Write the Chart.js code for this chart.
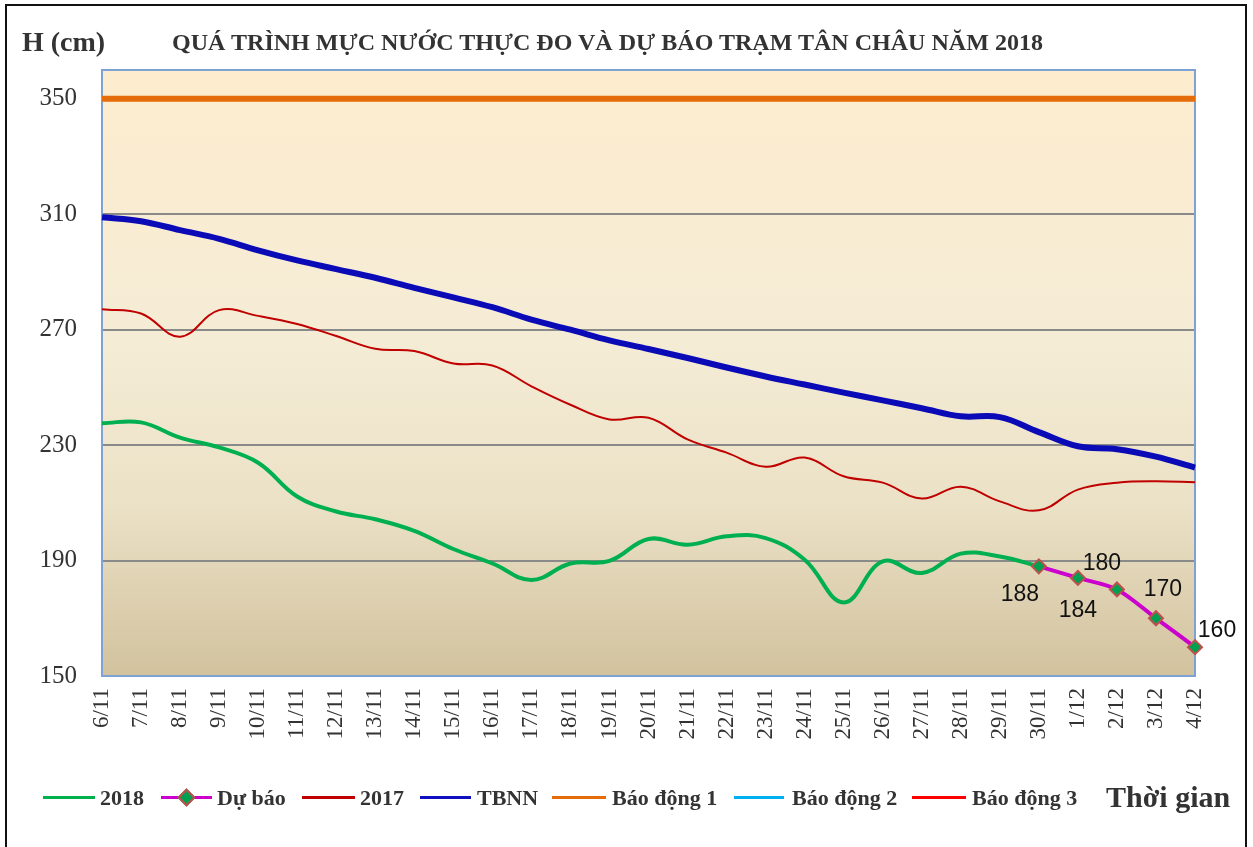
<!DOCTYPE html>
<html>
<head>
<meta charset="utf-8">
<script src="https://cdn.jsdelivr.net/npm/chart.js@4.4.1/dist/chart.umd.min.js"></script>
<style>
html,body{margin:0;padding:0;background:#fff;}
#wrap{position:relative;width:1253px;height:847px;overflow:hidden;background:#fff;}
#frame{position:absolute;left:5px;top:4px;width:1242px;height:900px;border:2px solid #111;box-sizing:border-box;}
#c{position:absolute;left:0;top:0;}
.t{position:absolute;font-family:'Liberation Serif','Times New Roman',serif;font-weight:bold;color:#333;white-space:nowrap;}
.ln{position:absolute;height:3px;}
.mk{position:absolute;width:9px;height:9px;background:#00a050;border:2px solid #c0504d;transform:rotate(45deg);}
</style>
</head>
<body>
<div id="wrap">
  <div id="frame"></div>
  <canvas id="c" width="1253" height="847"></canvas>
  <div class="t" id="ytitle" style="left:22px;top:27px;font-size:28px;line-height:30px;">H (cm)</div>
  <div class="t" id="title" style="left:172px;top:29px;font-size:24px;line-height:26px;transform-origin:0 50%;">QUÁ TRÌNH MỰC NƯỚC THỰC ĐO VÀ DỰ BÁO TRẠM TÂN CHÂU NĂM 2018</div>
  <div id="legend"></div>
  <div class="t" style="left:1106px;top:781px;font-size:30px;line-height:32px;">Thời gian</div>
</div>
<script>
// ---- data ----
const labels = ['6/11','7/11','8/11','9/11','10/11','11/11','12/11','13/11','14/11','15/11','16/11','17/11','18/11','19/11','20/11','21/11','22/11','23/11','24/11','25/11','26/11','27/11','28/11','29/11','30/11','1/12','2/12','3/12','4/12'];
const yTicks = [150, 190, 230, 270, 310, 350];
const h2018 = [237.6, 237.9, 232.6, 229.2, 223.9, 212.2, 207, 204.3, 200.3, 194, 189, 183.3, 189, 189.9, 197.5, 195.5, 198.4, 197.8, 190.3, 175.5, 189.7, 185.7, 192.4, 191.4, 188, null, null, null, null];
const duBao = [null, null, null, null, null, null, null, null, null, null, null, null, null, null, null, null, null, null, null, null, null, null, null, null, 188, 184, 180, 170, 160];
const h2017 = [277.1, 275.6, 267.6, 276.8, 274.8, 272, 267.8, 263.4, 262.6, 258.3, 257.6, 250.4, 244, 238.9, 239.5, 232, 227.4, 222.5, 225.7, 219.2, 217, 211.5, 215.6, 210.5, 207.4, 214.6, 217, 217.5, 217.1];
const tbnn = [309, 307.6, 304.5, 301.5, 297.5, 294, 291, 288, 284.5, 281.2, 277.8, 273.5, 270, 266.3, 263.3, 260.2, 256.9, 253.8, 251, 248.2, 245.5, 242.8, 240, 239.7, 234.5, 229.6, 228.6, 226, 222.2];
const baoDong1 = [350,350,350,350,350,350,350,350,350,350,350,350,350,350,350,350,350,350,350,350,350,350,350,350,350,350,350,350,350];
const baoDong2 = [400,400,400,400,400,400,400,400,400,400,400,400,400,400,400,400,400,400,400,400,400,400,400,400,400,400,400,400,400];
const baoDong3 = [450,450,450,450,450,450,450,450,450,450,450,450,450,450,450,450,450,450,450,450,450,450,450,450,450,450,450,450,450];

const C = {g:'#00b050', m:'#cc00cc', r17:'#c00000', b:'#0a0ab6', o:'#e46c0a', cy:'#00b0f0', r:'#ff0000'};

const bgPlugin = {
  id: 'bgPlot',
  beforeDraw(chart) {
    const {ctx, chartArea: a} = chart;
    const g = ctx.createLinearGradient(0, a.top, 0, a.bottom);
    g.addColorStop(0, '#fdecce');
    g.addColorStop(0.45, '#f5ecd6');
    g.addColorStop(0.72, '#ebe1c6');
    g.addColorStop(1, '#d2c29e');
    ctx.save();
    ctx.fillStyle = g;
    ctx.fillRect(a.left, a.top, a.right - a.left, a.bottom - a.top);
    ctx.restore();
  },
  beforeDatasetsDraw(chart) {
    const {ctx, chartArea: a} = chart;
    ctx.save();
    ctx.strokeStyle = '#7ea2d4';
    ctx.lineWidth = 2;
    ctx.strokeRect(a.left, a.top, a.right - a.left, a.bottom - a.top);
    ctx.restore();
  }
};

const fcLabelPlugin = {
  id: 'fcLabels',
  afterDatasetsDraw(chart, args, opts) {
    const idx = chart.data.datasets.findIndex(d => d.label === 'Dự báo');
    const meta = chart.getDatasetMeta(idx);
    const {ctx} = chart;
    ctx.save();
    ctx.font = '23px "Liberation Sans", Arial, sans-serif';
    ctx.fillStyle = '#111';
    ctx.textAlign = 'center';
    ctx.textBaseline = 'middle';
    let k = 0;
    meta.data.forEach((pt, i) => {
      const v = duBao[i];
      if (v == null) return;
      const off = opts.offsets[k++] || [0, -20];
      ctx.fillText(String(v), pt.x + off[0], pt.y + off[1]);
    });
    ctx.restore();
  }
};

new Chart(document.getElementById('c'), {
  type: 'line',
  data: {
    labels: labels,
    datasets: [
      {label:'Dự báo', data: duBao, borderColor: C.m, borderWidth: 4, tension: 0.3, clip: false,
       pointStyle: 'rectRot', pointRadius: 7, pointBackgroundColor: '#00a050', pointBorderColor: '#c0504d', pointBorderWidth: 2},
      {label:'2018', data: h2018, borderColor: C.g, borderWidth: 4, tension: 0.4, pointRadius: 0},
      {label:'2017', data: h2017, borderColor: C.r17, borderWidth: 2, tension: 0.4, pointRadius: 0},
      {label:'TBNN', data: tbnn, borderColor: C.b, borderWidth: 6, tension: 0.4, pointRadius: 0},
      {label:'Báo động 1', data: baoDong1, borderColor: C.o, borderWidth: 6, pointRadius: 0},
      {label:'Báo động 2', data: baoDong2, borderColor: C.cy, borderWidth: 3, pointRadius: 0},
      {label:'Báo động 3', data: baoDong3, borderColor: C.r, borderWidth: 3, pointRadius: 0}
    ]
  },
  options: {
    responsive: false,
    animation: false,
    spanGaps: false,
    layout: {padding: {top: 70, right: 58, left: 0, bottom: 0}},
    plugins: {
      legend: {display: false},
      title: {display: false},
      tooltip: {enabled: false},
      fcLabels: {offsets: [[-19, 28], [0, 33], [-15, -26], [7, -29], [22, -16]]}
    },
    scales: {
      x: {
        type: 'category',
        offset: false,
        grid: {display: false},
        border: {display: false},
        ticks: {autoSkip: false, minRotation: 90, maxRotation: 90, padding: 4, color: '#333',
                font: {family: "'Liberation Serif', serif", size: 23}},
        afterFit(s) { s.height = 171; }
      },
      y: {
        min: 150, max: 360,
        grid: {color: '#8a8a8a', lineWidth: 2, drawTicks: false},
        border: {display: false},
        afterBuildTicks(s) { s.ticks = yTicks.map(v => ({value: v})); },
        ticks: {padding: 25, color: '#333', font: {family: "'Liberation Serif', serif", size: 25}},
        afterFit(s) { s.width = 102; }
      }
    }
  },
  plugins: [bgPlugin, fcLabelPlugin]
});

// ---- HTML legend ----
const legendItems = [
  {name:'2018', color:C.g, x:43, w:52, tx:100},
  {name:'Dự báo', color:C.m, x:161, w:51, tx:217, marker:true},
  {name:'2017', color:C.r17, x:302, w:53, tx:360},
  {name:'TBNN', color:'#1010c0', x:420, w:51, tx:477},
  {name:'Báo động 1', color:C.o, x:552, w:54, tx:612},
  {name:'Báo động 2', color:C.cy, x:734, w:50, tx:792},
  {name:'Báo động 3', color:C.r, x:912, w:54, tx:972}
];
const lg = document.getElementById('legend');
legendItems.forEach(it => {
  const l = document.createElement('div');
  l.className = 'ln';
  l.style.cssText = `left:${it.x}px;top:796px;width:${it.w}px;background:${it.color};`;
  lg.appendChild(l);
  if (it.marker) {
    const m = document.createElement('div');
    m.className = 'mk';
    m.style.left = (it.x + it.w / 2 - 6.5) + 'px';
    m.style.top = (797.5 - 6.5) + 'px';
    lg.appendChild(m);
  }
  const t = document.createElement('div');
  t.className = 't';
  t.style.cssText = `left:${it.tx}px;top:786px;font-size:22px;line-height:24px;`;
  t.textContent = it.name;
  lg.appendChild(t);
});

// fit title width
const tt = document.getElementById('title');
const w = tt.getBoundingClientRect().width;
tt.style.transform = `scaleX(${871 / w})`;
</script>
</body>
</html>
